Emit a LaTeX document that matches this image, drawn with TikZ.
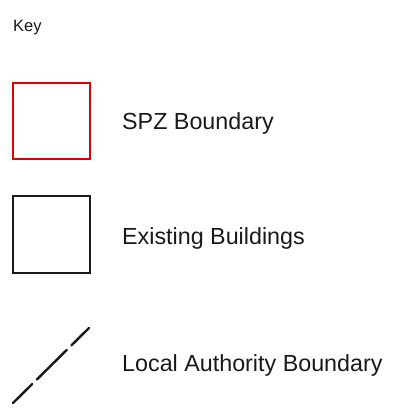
\documentclass[tikz,border=0pt]{standalone}
\usepackage{fontspec}
\setmainfont{Liberation Sans}
\definecolor{spzred}{RGB}{222,0,0}
\begin{document}
\begin{tikzpicture}[x=1pt,y=-1pt,
  label text/.style={anchor=base west, inner sep=0pt, font=\fontsize{23.3}{27}\selectfont, text=black!90},
  key title/.style={anchor=base west, inner sep=0pt, font=\fontsize{16.5}{19}\selectfont, text=black!90},
  swatch/.style={line width=2.2pt},
]
\useasboundingbox (0,0) rectangle (404,414);

\node[key title] (key) at (13,32) {Key};

% SPZ boundary swatch
\draw[swatch, draw=spzred] (13,83) rectangle (90,159);
\node[label text] (spz) at (122,130) {SPZ Boundary};

% existing buildings swatch
\draw[swatch, draw=black!90] (13,196) rectangle (90,273);
\node[label text] (bld) at (122,244) {Existing Buildings};

% local authority boundary swatch
\coordinate (la1) at (13,403);
\coordinate (la2) at (89,328);
\draw[line width=2.4pt, black!90, line cap=round, dash pattern=on 42pt off 6.5pt, dash phase=15pt] (la1) -- (la2);
\node[label text] (lab) at (122,371) {Local Authority Boundary};
\end{tikzpicture}
\end{document}
